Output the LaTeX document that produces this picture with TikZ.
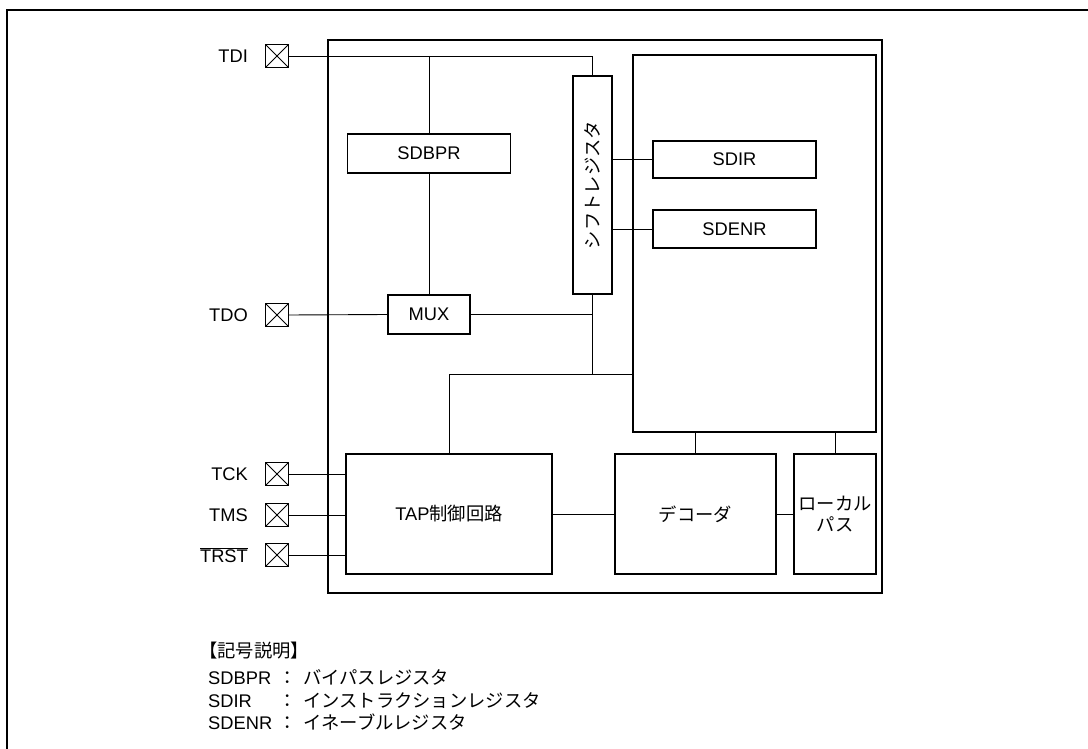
\documentclass[tikz,border=0pt]{standalone}
\usepackage{fontspec}
\setmainfont{Liberation Sans}
\newfontfamily\jp{Noto Sans CJK JP}
\usetikzlibrary{positioning}

\begin{document}
\begin{tikzpicture}[
    x=1pt, y=-1pt,
    font=\fontsize{18.3}{21}\selectfont,
    block/.style={
        draw,
        line width=1.7pt,
        inner sep=0pt
    },
    wire/.style={
        line width=0.9pt
    },
    padbox/.style={
        draw,
        line width=0.9pt,
        minimum size=23pt,
        inner sep=0pt,
        path picture={
            \draw[line width=0.9pt]
                (path picture bounding box.north west) -- (path picture bounding box.south east)
                (path picture bounding box.south west) -- (path picture bounding box.north east);
        }
    },
    padlabel/.style={
        inner sep=0pt,
        anchor=east
    },
    legendtext/.style={
        inner sep=0pt,
        anchor=base west
    }
]
    \useasboundingbox (0,0) rectangle (1088,749);

    % page frame and chip outline
    \draw[line width=1.8pt] (7,749) -- (7,10) -- (1088,10);
    \draw[line width=1.7pt] (328,40) rectangle (882,593);

    % blocks
    \node[block, minimum width=163pt, minimum height=39pt] (sdbpr) at (429,153.5) {SDBPR};
    \node[block, minimum width=39pt, minimum height=218pt] (shiftreg) at (592.5,185) {};
    \node[rotate=90, inner sep=0pt] at (shiftreg) {\jp シフトレジスタ};
    \node[block, minimum width=243pt, minimum height=377pt] (core) at (754.5,243.5) {};
    \node[block, minimum width=163pt, minimum height=37pt] (sdir) at (734.5,159.5) {SDIR};
    \node[block, minimum width=163pt, minimum height=38pt] (sdenr) at (734.5,229) {SDENR};
    \node[block, minimum width=82pt, minimum height=39pt] (mux) at (429,314.5) {MUX};
    \node[block, minimum width=206pt, minimum height=120pt] (tap) at (449,514) {TAP{\jp 制御回路}};
    \node[block, minimum width=161pt, minimum height=120pt] (decoder) at (695.5,514) {\jp デコーダ};
    \node[block, minimum width=82pt, minimum height=120pt, align=center] (localbus) at (835,514) {\jp ローカル\\\jp パス};

    % pads
    \node[padbox] (tdi) at (277,56) {};
    \node[padbox] (tdo) at (277,315) {};
    \node[padbox] (tck) at (277,474) {};
    \node[padbox] (tms) at (277,515) {};
    \node[padbox] (trst) at (277,555) {};
    \node[padlabel, left=17pt of tdi] (tdilabel) {TDI};
    \node[padlabel, left=17pt of tdo] (tdolabel) {TDO};
    \node[padlabel, left=17pt of tck] (tcklabel) {TCK};
    \node[padlabel, left=17pt of tms] (tmslabel) {TMS};
    \node[padlabel, left=17pt of trst] (trstlabel) {$\overline{\hbox{TRST}}$};

    % wiring
    \coordinate (busjoin) at (592.5,374);
    \draw[wire] (tdi.east) -- (tdi.east -| shiftreg.north) -- (shiftreg.north);
    \draw[wire] (sdbpr.north |- tdi.east) -- (sdbpr.north);
    \draw[wire] (sdbpr.south) -- (mux.north);
    \draw[wire] (tdo.east) -- (mux.west);
    \draw[wire] (mux.east) -- (mux.east -| busjoin);
    \draw[wire] (shiftreg.south) -- (busjoin);
    \draw[wire] (core.west |- busjoin) -- (busjoin -| tap.north) -- (tap.north);
    \draw[wire] (shiftreg.east |- sdir.west) -- (sdir.west);
    \draw[wire] (shiftreg.east |- sdenr.west) -- (sdenr.west);
    \draw[wire] (tck.east) -- (tap.west |- tck.east);
    \draw[wire] (tms.east) -- (tap.west |- tms.east);
    \draw[wire] (trst.east) -- (tap.west |- trst.east);
    \draw[wire] (tap.east) -- (decoder.west);
    \draw[wire] (decoder.east) -- (localbus.west);
    \draw[wire] (core.south -| decoder.north) -- (decoder.north);
    \draw[wire] (core.south -| localbus.north) -- (localbus.north);

    % legend
    \node[legendtext] (legendtitle) at (199,657) {\jp 【記号説明】};
    \node[legendtext] (keysdbpr) at (208,684) {SDBPR};
    \node[legendtext] (keysdir) at (208,707) {SDIR};
    \node[legendtext] (keysdenr) at (208,729) {SDENR};
    \node[legendtext, anchor=base] (colsdbpr) at (288,684) {\jp ：};
    \node[legendtext, anchor=base] (colsdir) at (288,707) {\jp ：};
    \node[legendtext, anchor=base] (colsdenr) at (288,729) {\jp ：};
    \node[legendtext] (txtsdbpr) at (303,684) {\jp バイパスレジスタ};
    \node[legendtext] (txtsdir) at (303,707) {\jp インストラクションレジスタ};
    \node[legendtext] (txtsdenr) at (303,729) {\jp イネーブルレジスタ};
\end{tikzpicture}
\end{document}
